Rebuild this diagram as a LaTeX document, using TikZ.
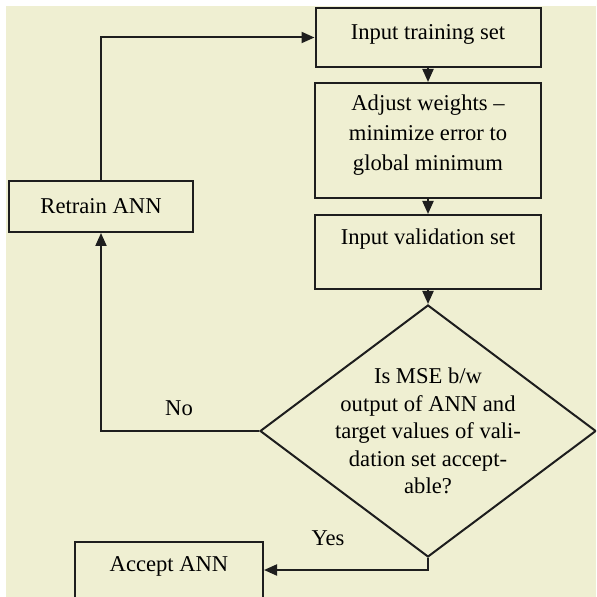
\documentclass[tikz,border=0pt]{standalone}
\usepackage{fontspec}
\setmainfont{Liberation Serif}
\usetikzlibrary{positioning,shapes.geometric,arrows.meta}
\definecolor{bgcream}{RGB}{239,239,210}
\definecolor{inkline}{RGB}{30,30,30}

\begin{document}
\begin{tikzpicture}[x=0.5pt,y=-0.5pt,
    stepbox/.style={draw=inkline, line width=1pt, fill=bgcream, align=center, inner sep=0pt, font=\fontsize{11.3}{15}\selectfont},
    decision/.style={draw=inkline, line width=1pt, diamond, inner sep=0pt, minimum width=168pt, minimum height=126pt},
    arr/.style={draw=inkline, line width=1pt, -{Triangle[length=6.5pt,width=5.5pt]}},
    lbl/.style={font=\fontsize{11.3}{13.8}\selectfont, align=center, inner sep=0pt}]
    \useasboundingbox (0,0) rectangle (596,597);
    \clip (0,0) rectangle (596,597);
    \fill[bgcream] (6,6) rectangle (596,597);

    % main column
    \node[stepbox, minimum width=112.5pt, minimum height=29.5pt, text depth=5pt] (train) at (428,37.5) {Input training set};
    \node[stepbox, minimum width=113pt, minimum height=57.5pt, text depth=8pt] (adjust) at (428,140.5) {Adjust weights --\\minimize error to\\global minimum};
    \node[stepbox, minimum width=113pt, minimum height=37pt] (valid) at (428,252) {Input validation set\\~};
    \node[decision] (check) at (428,431) {};
    \node[lbl] (checktext) at (check.center) {Is MSE b/w\\output of ANN and\\target values of vali-\\dation set accept-\\able?};

    % side boxes
    \node[stepbox, minimum width=92pt, minimum height=25.5pt] (retrain) at (101,206.5) {Retrain ANN};
    \node[stepbox, minimum width=94pt, minimum height=37pt] (accept) at (169,579) {Accept ANN\\~};

    \draw[arr] (train) -- (adjust);
    \draw[arr] (adjust) -- (valid);
    \draw[arr] (valid) -- (check);
    \draw[arr] (check.west) -| (retrain.south);
    \draw[arr] (retrain.north) |- (train.west);
    \coordinate (yesbend) at (428,570);
    \draw[arr] (check.south) -- (yesbend) -- (yesbend -| accept.east);

    \node[lbl] (nolbl) at (179,408) {No};
    \node[lbl] (yeslbl) at (328,538) {Yes};
\end{tikzpicture}
\end{document}
